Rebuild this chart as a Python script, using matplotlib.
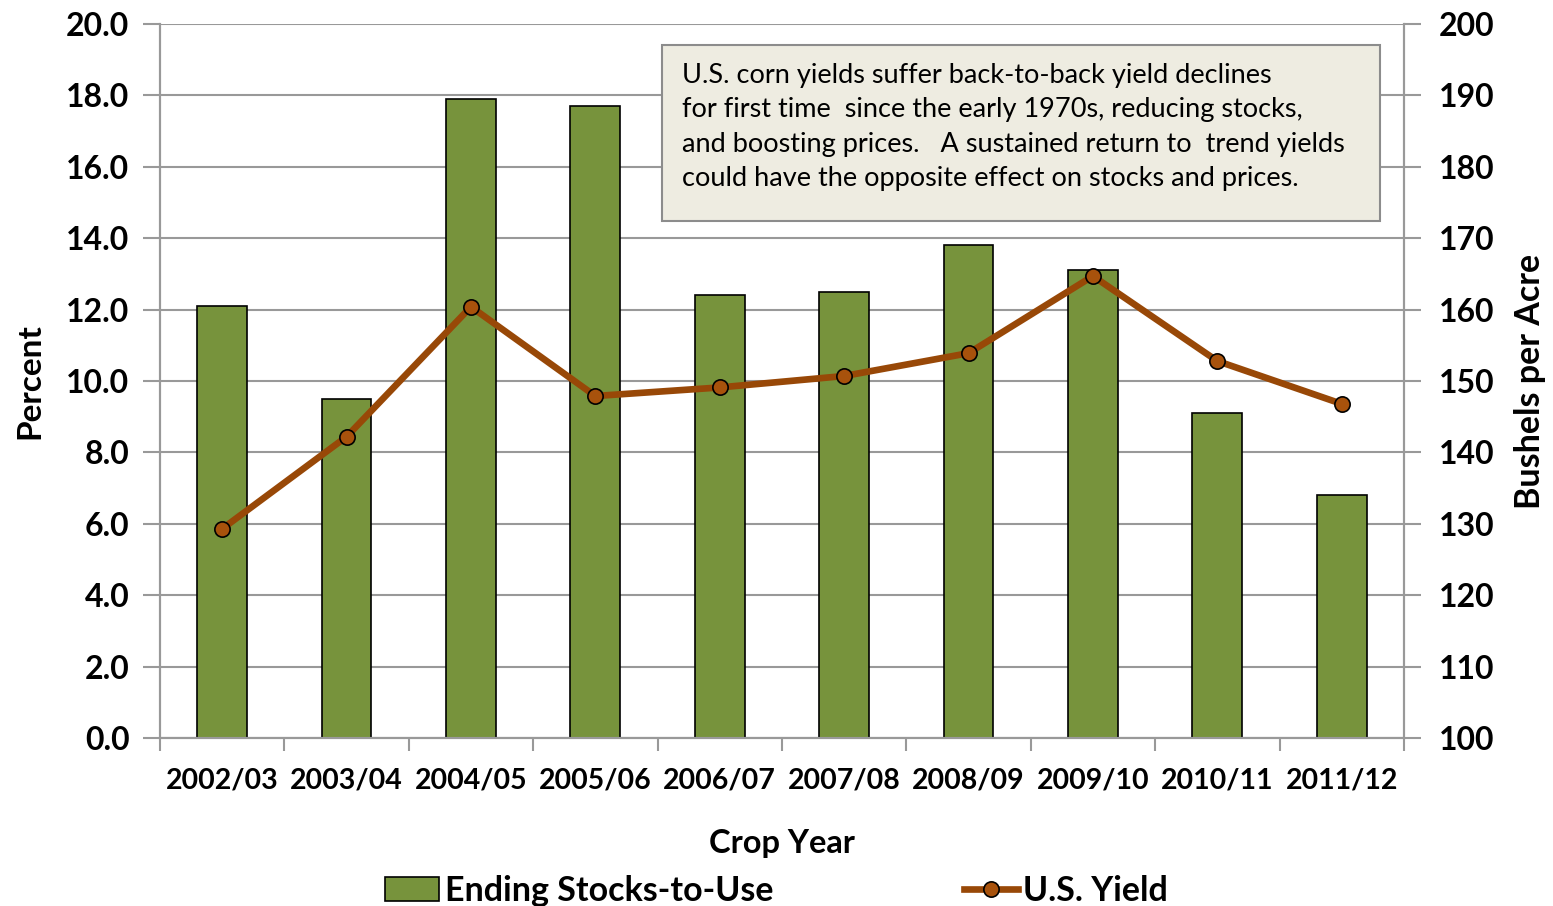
import matplotlib.pyplot as plt
from matplotlib.patches import Rectangle
import numpy as np

# Crop years and values
years = ["2002/03", "2003/04", "2004/05", "2005/06", "2006/07",
         "2007/08", "2008/09", "2009/10", "2010/11", "2011/12"]
stocks_to_use = [12.1, 9.5, 17.9, 17.7, 12.4, 12.5, 13.8, 13.1, 9.1, 6.8]
us_yield = [129.3, 142.2, 160.4, 147.9, 149.1, 150.7, 153.9, 164.7, 152.8, 146.8]

note = ("U.S. corn yields suffer back-to-back yield declines\n"
        "for first time  since the early 1970s, reducing stocks,\n"
        "and boosting prices.   A sustained return to  trend yields\n"
        "could have the opposite effect on stocks and prices.")

plt.rcParams['font.family'] = ['Lato', 'DejaVu Sans']

bar_color = "#77933C"
line_color = "#984807"
grid_color = "#999999"

fig = plt.figure(figsize=(15.53, 9.06), dpi=100)
ax = fig.add_axes([0.103, 0.1854, 0.801, 0.7881])
ax2 = ax.twinx()

x = np.arange(len(years))

# Bars (left axis)
ax.bar(x, stocks_to_use, width=0.4, color=bar_color, edgecolor="black",
       linewidth=1.2, zorder=2, label="Ending Stocks-to-Use")
ax.set_ylim(0, 20)
ax.set_yticks(np.arange(0, 20.1, 2))
ax.set_yticklabels([f"{v:.1f}" for v in np.arange(0, 20.1, 2)])
ax.set_xlim(-0.5, len(years) - 0.5)
ax.set_xticks(x)
ax.set_xticklabels(years)
ax.set_xticks(np.arange(-0.5, len(years)), minor=True)
ax.tick_params(axis="x", which="major", length=0, pad=21)
ax.tick_params(axis="x", which="minor", length=9, color=grid_color, width=1.5)
ax.tick_params(axis="y", length=12, color=grid_color, width=1.5, pad=10)
ax.grid(axis="y", color=grid_color, linewidth=1.5, zorder=0)
ax.set_axisbelow(True)

# Line (right axis)
ax2.plot(x, us_yield, color=line_color, linewidth=4.8, marker="o",
         markersize=11, markerfacecolor="#A8520C", markeredgecolor="black",
         markeredgewidth=1.2, zorder=3, label="U.S. Yield")
ax2.set_ylim(100, 200)
ax2.set_yticks(np.arange(100, 201, 10))
ax2.tick_params(axis="y", length=12, color=grid_color, width=1.5, pad=13)

for a in (ax, ax2):
    a.spines["top"].set_visible(False)
    for s in ("left", "right", "bottom"):
        a.spines[s].set_color(grid_color)
        a.spines[s].set_linewidth(1.5)
    for lab in a.get_yticklabels():
        lab.set_fontsize(23)
        lab.set_fontweight("bold")
for lab in ax.get_xticklabels():
    lab.set_fontsize(20.5)
    lab.set_fontweight("bold")

ax.set_ylabel("Percent", fontsize=24, fontweight="bold", labelpad=16)
ax2.set_ylabel("Bushels per Acre", fontsize=24.5, fontweight="bold", labelpad=14)
ax.set_xlabel("Crop Year", fontsize=23.5, fontweight="bold", labelpad=26)

# Annotation box
ax.add_patch(Rectangle((0.4035, 0.7241), 0.5772, 0.2465, transform=ax.transAxes,
                       facecolor="#EEECE1", edgecolor="#8C8C8C", linewidth=1.5,
                       zorder=5, clip_on=False))
ax.text(0.4196, 0.946, note, transform=ax.transAxes, fontsize=19.5,
        va="top", ha="left", linespacing=1.48, zorder=6)

# Legend
h1, l1 = ax.get_legend_handles_labels()
h2, l2 = ax2.get_legend_handles_labels()
fig.legend(h1 + h2, l1 + l2, loc="lower center", bbox_to_anchor=(0.5, -0.035),
           ncol=2, frameon=False, columnspacing=5.6, handlelength=1.6,
           handletextpad=0.15, prop={"size": 24.5, "weight": "bold"})

plt.savefig("out.png", dpi=100)
